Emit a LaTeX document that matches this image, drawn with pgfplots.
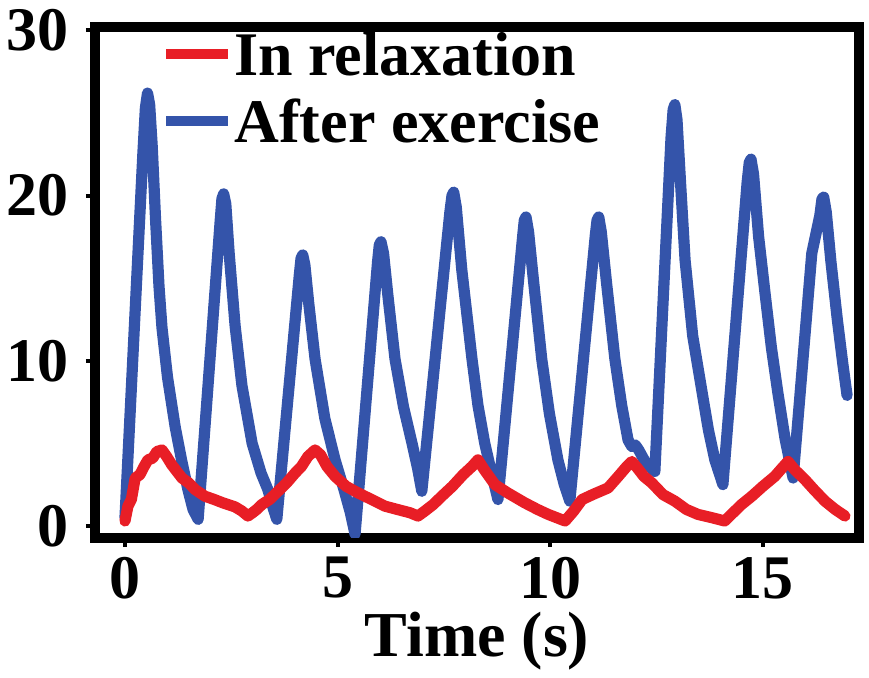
\documentclass[border=0pt]{standalone}
\usepackage{pgfplots}
\pgfplotsset{compat=1.18}
\usepackage{fontspec}
\setmainfont{Liberation Serif}
\definecolor{myred}{RGB}{232,30,38}
\definecolor{myblue}{RGB}{52,84,170}
\begin{document}
\begin{tikzpicture}
\begin{axis}[
  scale only axis,
  width=382pt, height=255.5pt,
  xmin=-0.705, xmax=17.26,
  ymin=-0.73, ymax=30.2,
  xtick={0,5,10,15}, ytick={0,10,20,30},
  xtick pos=bottom, ytick pos=left,
  tick align=outside,
  major tick length=4.5pt,
  tick style={line width=2pt, black},
  axis line style={line width=5pt, black},
  /pgf/number format/assume math mode=true,
  tick label style={font=\fontsize{31}{31}\selectfont\bfseries},
  xticklabel style={anchor=north, inner sep=0pt, yshift=-5pt},
  yticklabel style={anchor=east, inner sep=0pt, xshift=-8.5pt},
  xlabel={Time (s)},
  xlabel style={font=\fontsize{32}{32}\selectfont\bfseries, at={(axis description cs:0.5,0)}, anchor=base, yshift=-59.5pt},
  legend style={draw=none, fill=none, at={(0.087,0.988)}, anchor=north west,
    inner sep=0pt, outer sep=0pt, row sep=12.5pt, column sep=0.5pt,
    font=\fontsize{31}{31}\selectfont\bfseries,
    nodes={inner sep=0pt, text height=21pt, text depth=0pt}},
  legend cell align=left,
  reverse legend,
  legend image code/.code={\draw[line width=5pt, line cap=butt] (0pt,0pt) -- (31pt,0pt);},
  clip=true,
]
\addplot[myblue, line width=5.6pt, line join=round, line cap=round] table {
x y
0.00 0.5
0.42 22.5
0.48 25.3
0.53 26.2
0.58 25.5
0.64 23.0
0.72 18.5
0.80 14.5
0.87 12.0
1.00 9.0
1.18 6.0
1.33 4.0
1.48 2.2
1.60 1.0
1.72 0.4
2.24 18.5
2.28 19.8
2.32 20.1
2.37 19.5
2.45 16.5
2.59 12.1
2.75 8.5
2.99 5.0
3.20 3.2
3.36 2.2
3.47 1.2
3.57 0.4
4.10 15.2
4.14 16.2
4.18 16.4
4.23 15.8
4.32 13.5
4.47 10.1
4.70 6.5
4.94 4.0
5.15 2.2
5.30 0.8
5.41 -0.5
5.94 16.0
5.98 17.0
6.02 17.2
6.08 16.5
6.18 14.0
6.35 10.1
6.55 7.2
6.75 5.0
6.88 3.5
6.98 2.1
7.64 19.0
7.69 20.0
7.73 20.2
7.79 19.3
7.92 15.5
8.16 10.1
8.30 7.3
8.46 5.0
8.62 3.2
8.77 1.6
9.35 17.5
9.39 18.5
9.43 18.7
9.49 17.8
9.60 15.0
9.80 10.1
9.98 6.8
10.18 4.0
10.33 2.5
10.46 1.5
11.06 17.6
11.10 18.5
11.14 18.7
11.20 17.8
11.32 14.8
11.52 10.1
11.68 7.3
11.83 5.2
11.92 4.8
12.00 4.9
12.08 4.6
12.25 3.8
12.46 3.3
12.84 23.5
12.89 25.2
12.93 25.5
12.98 24.6
13.07 20.5
13.17 16.1
13.35 11.5
13.57 8.1
13.72 5.8
13.87 4.0
14.06 2.5
14.63 20.8
14.68 22.0
14.72 22.2
14.78 21.3
14.90 17.5
15.05 14.1
15.20 10.8
15.35 8.1
15.52 5.3
15.71 2.9
16.15 16.5
16.34 18.8
16.39 19.8
16.43 19.9
16.49 19.0
16.60 16.0
16.75 12.5
16.88 9.8
16.98 7.9
};
\addlegendentry{After exercise}
\addplot[myred, line width=5.6pt, line join=round, line cap=round] table {
x y
0.00 0.3
0.07 1.2
0.15 1.6
0.24 2.9
0.35 3.1
0.45 3.6
0.54 4.0
0.65 4.1
0.75 4.5
0.87 4.6
0.98 4.2
1.10 3.7
1.22 3.3
1.34 2.9
1.50 2.6
1.65 2.2
1.88 1.8
2.10 1.6
2.30 1.4
2.59 1.15
2.75 0.9
2.89 0.6
3.00 0.8
3.10 1.0
3.22 1.3
3.40 1.6
3.60 2.1
3.80 2.6
4.00 3.2
4.15 3.6
4.30 4.2
4.47 4.6
4.60 4.3
4.75 3.6
4.94 3.0
5.20 2.4
5.48 2.0
5.80 1.6
6.11 1.2
6.40 1.0
6.70 0.8
6.89 0.6
7.05 0.9
7.25 1.3
7.45 1.8
7.70 2.4
7.95 3.1
8.16 3.6
8.30 4.0
8.45 3.4
8.70 2.5
9.00 2.0
9.40 1.4
9.70 1.0
9.95 0.7
10.15 0.5
10.35 0.3
10.55 0.9
10.75 1.6
11.00 1.9
11.36 2.3
11.60 3.0
11.80 3.6
11.92 3.9
12.05 3.5
12.20 3.0
12.39 2.6
12.65 1.9
12.93 1.5
13.20 1.0
13.47 0.7
13.80 0.5
14.10 0.3
14.30 0.8
14.50 1.3
14.74 1.8
15.00 2.4
15.28 3.0
15.45 3.5
15.59 3.9
15.75 3.4
15.99 2.8
16.20 2.2
16.46 1.5
16.70 1.0
16.93 0.6
};
\addlegendentry{In relaxation}
\end{axis}
\path (current axis.south west) ++(-47.5pt,-64.5pt) rectangle ++(434.5pt,333.5pt);
\end{tikzpicture}
\end{document}
